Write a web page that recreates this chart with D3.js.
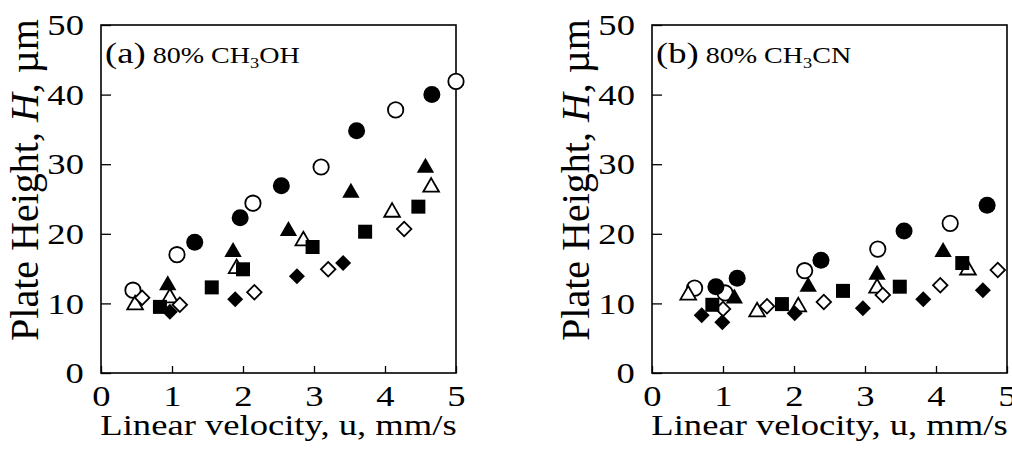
<!DOCTYPE html>
<html>
<head>
<meta charset="utf-8">
<script src="https://cdn.jsdelivr.net/npm/d3@7"></script>
<style>
  body { margin: 0; background: #fff; }
  text { font-family: 'Liberation Serif', 'Times New Roman', serif; fill: #000; }
</style>
</head>
<body>
<svg id="chart"></svg>
<script>
const svgWidth = 1012;
const svgHeight = 467;

// axis ticks
const xTicks = [0, 1, 2, 3, 4, 5];
const yTicks = [0, 10, 20, 30, 40, 50];

// panel (a) 80% CH3OH : [u (mm/s), H (um)]
const aFilledCircle = [[1.32, 18.8], [1.96, 22.3], [2.54, 26.9], [3.6, 34.8], [4.66, 40]];
const aOpenCircle = [[0.45, 11.9], [1.07, 17], [2.14, 24.4], [3.1, 29.6], [4.15, 37.8], [5.0, 41.9]];
const aFilledTriangle = [[0.94, 12.6], [1.86, 17.4], [2.64, 20.4], [3.52, 25.9], [4.57, 29.5]];
const aOpenTriangle = [[0.48, 9.8], [0.97, 10.8], [1.91, 15], [2.85, 19], [4.1, 23.1], [4.65, 26.7]];
const aFilledSquare = [[0.83, 9.5], [1.56, 12.3], [2.0, 14.9], [2.98, 18.1], [3.72, 20.3], [4.47, 23.9]];
const aFilledDiamond = [[0.97, 8.8], [1.89, 10.6], [2.76, 13.9], [3.41, 15.8]];
const aOpenDiamond = [[0.58, 10.8], [1.11, 9.8], [2.16, 11.6], [3.2, 14.9], [4.27, 20.7]];

// panel (b) 80% CH3CN
const bFilledCircle = [[0.9, 12.4], [1.2, 13.6], [2.38, 16.2], [3.55, 20.4], [4.72, 24.1]];
const bOpenCircle = [[0.6, 12.2], [1.03, 11.5], [2.15, 14.7], [3.18, 17.8], [4.2, 21.5]];
const bFilledTriangle = [[1.16, 10.7], [2.2, 12.4], [3.17, 14.1], [4.1, 17.4]];
const bOpenTriangle = [[0.51, 11.2], [1.48, 8.8], [2.06, 9.5], [3.17, 12.2], [4.45, 14.8]];
const bFilledSquare = [[0.85, 9.8], [1.83, 9.9], [2.69, 11.8], [3.49, 12.4], [4.37, 15.8]];
const bFilledDiamond = [[0.7, 8.3], [0.99, 7.3], [2.01, 8.6], [2.97, 9.3], [3.82, 10.6], [4.66, 11.9]];
const bOpenDiamond = [[1.0, 9.2], [1.62, 9.6], [2.42, 10.2], [3.25, 11.2], [4.06, 12.6], [4.87, 14.8]];

const stretch = 1.22; // the scanned text is wider than it is tall

const svg = d3.select('#chart')
  .attr('width', svgWidth)
  .attr('height', svgHeight);

const width = 355;
const height = 348;

const x = d3.scaleLinear().domain([0, 5]).range([0, width]);
const y = d3.scaleLinear().domain([0, 50]).range([height, 0]);

const shapes = {
  circle: { type: d3.symbolCircle, size: 227, rotate: 0 },
  triangle: { type: d3.symbolTriangle, size: 130, rotate: 0 },
  square: { type: d3.symbolSquare, size: 196, rotate: 0 },
  diamond: { type: d3.symbolSquare, size: 128, rotate: 45 },
};

function drawPanel(left, label, solvent, series) {
  const g = svg.append('g').attr('transform', `translate(${left}, 25)`);

  // x-axis
  const xa = g.append('g')
    .attr('transform', `translate(0,${height})`)
    .call(d3.axisBottom(x).tickValues(xTicks).tickFormat(d3.format('d'))
      .tickSizeInner(-7).tickSizeOuter(0).tickPadding(12));
  xa.select('.domain').remove();

  // y-axis
  const ya = g.append('g')
    .call(d3.axisLeft(y).tickValues(yTicks).tickFormat(d3.format('d'))
      .tickSizeInner(-10).tickSizeOuter(0).tickPadding(14));
  ya.select('.domain').remove();

  [xa, ya].forEach((a) => {
    a.attr('font-family', null).attr('font-size', 30);
    a.selectAll('line').attr('stroke', '#000').attr('stroke-width', 1.3);
    a.selectAll('text').attr('transform', `scale(${stretch},1)`);
  });

  // frame
  g.append('rect')
    .attr('width', width)
    .attr('height', height)
    .attr('fill', 'none')
    .attr('stroke', '#000')
    .attr('stroke-width', 1.6);

  // markers
  series.forEach((s) => {
    const sh = shapes[s.shape];
    const sym = d3.symbol().type(sh.type).size(s.open ? sh.size * 0.82 : sh.size);
    g.append('g')
      .selectAll('path')
      .data(s.data)
      .enter()
      .append('path')
      .attr('d', sym)
      .attr('transform', d => `translate(${x(d[0])},${y(d[1])}) rotate(${sh.rotate})`)
      .attr('fill', s.open ? '#fff' : '#000')
      .attr('stroke', '#000')
      .attr('stroke-width', s.open ? 1.8 : 0);
  });

  // panel label
  const t = g.append('g').attr('transform', 'translate(4, 38)')
    .append('text')
    .attr('transform', `scale(${stretch},1)`);
  t.append('tspan').attr('font-size', 30).text(`(${label})`);
  t.append('tspan').attr('font-size', 23).text(' 80% CH');
  t.append('tspan').attr('font-size', 15).attr('dy', 5).text('3');
  t.append('tspan').attr('font-size', 23).attr('dy', -5).text(solvent);

  // x title
  g.append('g').attr('transform', `translate(${width / 2}, 410)`)
    .append('text')
    .attr('text-anchor', 'middle')
    .attr('font-size', 30)
    .attr('transform', `scale(${stretch},1)`)
    .text('Linear velocity, u, mm/s');

  // y title
  const yt = g.append('text')
    .attr('transform', `translate(${-63}, 155) rotate(-90)`)
    .attr('text-anchor', 'middle')
    .attr('font-size', 40);
  yt.append('tspan').text('Plate Height, ');
  yt.append('tspan').attr('font-style', 'italic').text('H');
  yt.append('tspan').text(', \u00b5m');
}

function seriesFor(fc, oc, ft, ot, fs, fd, od) {
  return [
    { shape: 'circle', open: true, data: oc },
    { shape: 'triangle', open: true, data: ot },
    { shape: 'diamond', open: true, data: od },
    { shape: 'circle', open: false, data: fc },
    { shape: 'triangle', open: false, data: ft },
    { shape: 'square', open: false, data: fs },
    { shape: 'diamond', open: false, data: fd },
  ];
}

drawPanel(101, 'a', 'OH', seriesFor(aFilledCircle, aOpenCircle, aFilledTriangle, aOpenTriangle,
  aFilledSquare, aFilledDiamond, aOpenDiamond));
drawPanel(652, 'b', 'CN', seriesFor(bFilledCircle, bOpenCircle, bFilledTriangle, bOpenTriangle,
  bFilledSquare, bFilledDiamond, bOpenDiamond));
</script>
</body>
</html>
